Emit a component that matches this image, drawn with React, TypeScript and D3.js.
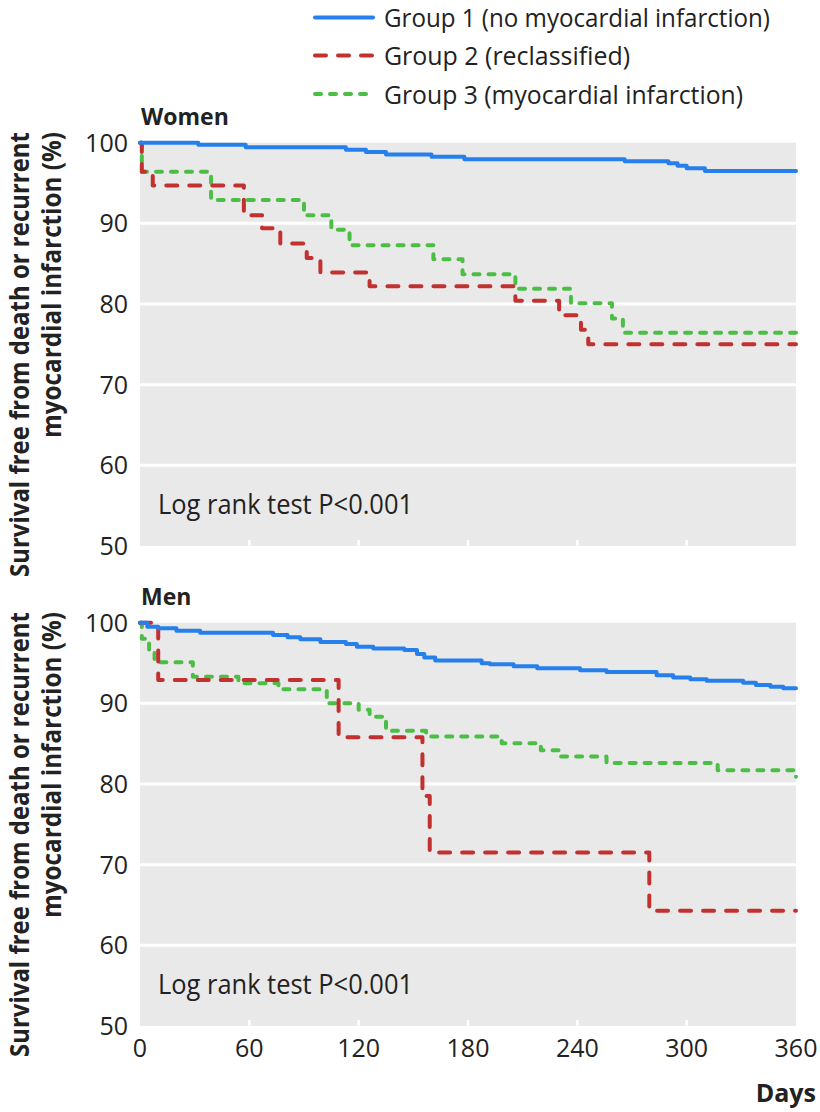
import * as d3 from "d3";
import React, { useEffect, useRef } from "react";

// group labels / colours
const groupNames = [
  "Group 1 (no myocardial infarction)",
  "Group 2 (reclassified)",
  "Group 3 (myocardial infarction)",
];
const groupColors = ["#2680eb", "#c1312f", "#4cbd45"];
const groupDash = [null, "11 12", "6 9"];

// Women, Kaplan-Meier steps (day, % survival)
const womenDays1 = [0, 32, 58, 113, 124, 135, 160, 178, 266, 290, 295, 300, 310, 360];
const womenSurv1 = [100, 99.75, 99.43, 99.13, 98.85, 98.54, 98.27, 97.94, 97.7, 97.45, 97.15, 96.83, 96.5, 96.5];
const womenDays2 = [0, 1, 7, 57, 67, 77, 91.5, 99, 126, 206, 230, 242, 246, 360];
const womenSurv2 = [100, 96.4, 94.7, 91.0, 89.4, 87.5, 85.7, 83.9, 82.2, 80.4, 78.6, 76.8, 75.0, 75.0];
const womenDays3 = [0, 1, 39, 90, 105, 115, 161, 177, 206, 236.5, 259, 265, 360];
const womenSurv3 = [100, 96.4, 92.9, 91.0, 89.2, 87.3, 85.55, 83.7, 81.9, 80.1, 78.2, 76.45, 76.45];

// Men
const menDays1 = [0, 4, 10, 20, 33, 73, 81, 88, 99, 113, 119, 128, 145, 152, 156, 162, 187.5, 192, 205, 218, 241.5, 256, 283.5, 292.6, 302, 311, 331, 338, 346, 353, 360];
const menSurv1 = [100, 99.5, 99.3, 99.0, 98.76, 98.48, 98.2, 97.94, 97.6, 97.36, 97.03, 96.8, 96.6, 96.12, 95.7, 95.3, 94.97, 94.85, 94.6, 94.35, 94.1, 93.9, 93.5, 93.2, 93.0, 92.8, 92.56, 92.28, 92.07, 91.86, 91.86];
const menDays2 = [0, 10, 109, 155, 159, 279.5, 360];
const menSurv2 = [100, 92.9, 85.8, 78.5, 71.5, 64.3, 64.3];
const menDays3 = [0, 1, 5, 8, 29, 54, 76, 102.5, 120, 126, 135, 157, 198.5, 220, 230.5, 256, 317, 359, 360];
const menSurv3 = [100, 98.0, 96.5, 95.1, 93.3, 92.5, 91.75, 90.0, 89.2, 88.35, 86.6, 85.9, 85.05, 84.2, 83.4, 82.6, 81.7, 80.9, 80.9];

const xTicks = [0, 60, 120, 180, 240, 300, 360];
const yTicks = [50, 60, 70, 80, 90, 100];
const logRankText = "Log rank test P<0.001";

const panels = [
  { title: "Women", top: 142.7, days: [womenDays1, womenDays2, womenDays3], surv: [womenSurv1, womenSurv2, womenSurv3] },
  { title: "Men", top: 622.7, days: [menDays1, menDays2, menDays3], surv: [menSurv1, menSurv2, menSurv3] },
];

const FONT = "'Open Sans', sans-serif";

export default function App() {
  const svgRef = useRef<SVGSVGElement>(null);

  useEffect(() => {
    const svg = d3.select(svgRef.current);
    svg.selectAll("*").remove();

    const panelH = 403.3;
    const x = d3.scaleLinear().domain([0, 360]).range([140, 796]);

    // legend
    const legendY = [17.5, 55.5, 94];
    const legendLen = [386, 246, 359];
    groupNames.forEach((name, i) => {
      const ln = svg
        .append("line")
        .attr("x1", 315)
        .attr("x2", 373)
        .attr("y1", legendY[i])
        .attr("y2", legendY[i])
        .attr("stroke", groupColors[i])
        .attr("stroke-width", 4)
        .attr("stroke-linecap", "round");
      if (groupDash[i]) ln.attr("stroke-dasharray", groupDash[i]);
      svg
        .append("text")
        .attr("x", 384)
        .attr("y", legendY[i] + 9.5)
        .attr("font-family", FONT)
        .attr("font-size", 26)
        .attr("fill", "#222")
        .attr("textLength", legendLen[i])
        .attr("lengthAdjust", "spacingAndGlyphs")
        .text(name);
    });

    panels.forEach((p, pi) => {
      const y = d3.scaleLinear().domain([50, 100]).range([p.top + panelH, p.top]);
      const g = svg.append("g");

      g.append("rect")
        .attr("x", x(0))
        .attr("y", y(100))
        .attr("width", x(360) - x(0))
        .attr("height", y(50) - y(100))
        .attr("fill", "#e9e9e9");

      g.selectAll(".grid")
        .data(yTicks.filter((t) => t > 50 && t < 100))
        .join("line")
        .attr("x1", x(0))
        .attr("x2", x(360))
        .attr("y1", (d) => y(d))
        .attr("y2", (d) => y(d))
        .attr("stroke", "#fff")
        .attr("stroke-width", 3);

      g.selectAll(".xt")
        .data(xTicks.filter((t) => t > 0 && t < 360))
        .join("line")
        .attr("x1", (d) => x(d))
        .attr("x2", (d) => x(d))
        .attr("y1", y(50))
        .attr("y2", y(50) - 6)
        .attr("stroke", "#fff")
        .attr("stroke-width", 2.5);

      g.selectAll(".yl")
        .data(yTicks)
        .join("text")
        .attr("x", 128)
        .attr("y", (d) => y(d) + 9)
        .attr("text-anchor", "end")
        .attr("font-family", FONT)
        .attr("font-size", 25)
        .attr("fill", "#222")
        .text((d) => d);

      g.append("text")
        .attr("x", 141)
        .attr("y", p.top - 18)
        .attr("font-family", FONT)
        .attr("font-weight", "bold")
        .attr("font-size", 23)
        .attr("fill", "#222")
        .text(p.title);

      g.append("text")
        .attr("x", 158)
        .attr("y", p.top + 371.5)
        .attr("font-family", FONT)
        .attr("font-size", 27)
        .attr("fill", "#222")
        .attr("textLength", 255)
        .attr("lengthAdjust", "spacingAndGlyphs")
        .text(logRankText);

      // y axis title (two lines, rotated)
      const yt = p.top - 10.7;
      [
        { t: "Survival free from death or recurrent", bx: 29, len: 445 },
        { t: "myocardial infarction (%)", bx: 61, len: 306 },
      ].forEach((l) => {
        g.append("text")
          .attr("transform", `translate(${l.bx},${yt}) rotate(-90)`)
          .attr("text-anchor", "end")
          .attr("font-family", FONT)
          .attr("font-weight", "bold")
          .attr("font-size", 27)
          .attr("fill", "#222")
          .attr("textLength", l.len)
          .attr("lengthAdjust", "spacingAndGlyphs")
          .text(l.t);
      });

      // draw in reverse legend order so group 1 is on top
      [2, 1, 0].forEach((gi) => {
        const days = p.days[gi];
        const surv = p.surv[gi];
        const pts: [number, number][] = days.map((d, i) => [x(d), y(surv[i])]);
        const path = g
          .append("path")
          .attr("d", d3.line().curve(d3.curveStepAfter)(pts))
          .attr("fill", "none")
          .attr("stroke", groupColors[gi])
          .attr("stroke-width", 4)
          .attr("stroke-linecap", "round")
          .attr("stroke-linejoin", "round");
        if (groupDash[gi]) path.attr("stroke-dasharray", groupDash[gi]);
      });

      if (pi === 1) {
        g.selectAll(".xl")
          .data(xTicks)
          .join("text")
          .attr("x", (d) => x(d))
          .attr("y", 1057)
          .attr("text-anchor", "middle")
          .attr("font-family", FONT)
          .attr("font-size", 25)
          .attr("fill", "#222")
          .text((d) => d);
      }
    });

    svg
      .append("text")
      .attr("x", 816)
      .attr("y", 1102)
      .attr("text-anchor", "end")
      .attr("font-family", FONT)
      .attr("font-weight", "bold")
      .attr("font-size", 25)
      .attr("fill", "#222")
      .text("Days");
  });

  return (
    <svg
      ref={svgRef}
      width={820}
      height={1112}
      style={{ position: "absolute", left: 0, top: 0, background: "#fff" }}
    />
  );
}
